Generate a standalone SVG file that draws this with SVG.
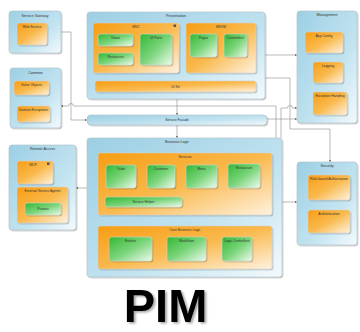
<svg xmlns="http://www.w3.org/2000/svg" width="360" height="332" viewBox="0 0 360 332">
  <defs>
    <linearGradient id="gBlue" x1="0" y1="0" x2="1" y2="1">
      <stop offset="0" stop-color="#9ccfe4"/>
      <stop offset="0.6" stop-color="#c2e3f0"/>
      <stop offset="1" stop-color="#f3fafd"/>
    </linearGradient>
    <linearGradient id="gOrange" x1="0" y1="0" x2="1" y2="1">
      <stop offset="0" stop-color="#f79d14"/>
      <stop offset="0.5" stop-color="#f9b94c"/>
      <stop offset="1" stop-color="#fff2e0"/>
    </linearGradient>
    <linearGradient id="gGreen" x1="0" y1="0" x2="1" y2="1">
      <stop offset="0" stop-color="#35b835"/>
      <stop offset="0.5" stop-color="#79d479"/>
      <stop offset="1" stop-color="#eefaee"/>
    </linearGradient>
    <filter id="shadow" x="-10%" y="-10%" width="125%" height="125%">
      <feDropShadow dx="1" dy="1" stdDeviation="0.6" flood-color="#000" flood-opacity="0.25"/>
    </filter>
    <filter id="titleShadow" x="-10%" y="-10%" width="130%" height="130%">
      <feDropShadow dx="2" dy="1.5" stdDeviation="0.8" flood-color="#000" flood-opacity="0.35"/>
    </filter>
    <marker id="arrow" viewBox="0 0 6 6" refX="6" refY="3" markerWidth="3.2" markerHeight="3.2" orient="auto">
      <path d="M0,0 L6,3 L0,6 Z" fill="#555"/>
    </marker>
    <style>
      .grp { fill: url(#gBlue); stroke: #b4c4cc; stroke-width: 0.7; filter: url(#shadow); }
      .org { fill: url(#gOrange); stroke: #d6d0c6; stroke-width: 0.6; filter: url(#shadow); }
      .grn { fill: url(#gGreen); stroke: #cfd8cf; stroke-width: 0.6; filter: url(#shadow); }
      .ttl { font-family: "Liberation Sans", Arial, sans-serif; font-size: 3.6px; fill: #333; text-anchor: middle; }
      .lbl { font-family: "Liberation Sans", Arial, sans-serif; font-size: 3.4px; fill: #333; text-anchor: middle; }
      .icon { fill: #555; }
      .conn { fill: none; stroke: #8a8a8a; stroke-width: 0.6; marker-end: url(#arrow); }
      .pim { font-family: "Liberation Sans", Arial, sans-serif; font-weight: bold; font-size: 47px; fill: #000; text-anchor: middle; filter: url(#titleShadow); }
    </style>
  </defs>

  <rect width="360" height="332" fill="#fff"/>

  <!-- Connectors -->
  <g id="connectors">
    <path class="conn" d="M61,32 H71 V120 H87"/>
    <path class="conn" d="M276,138 V106 H73.5 A2.5,2.5 0 0 0 68.5,106 H61"/>
    <path class="conn" d="M265,55 H297"/>
    <path class="conn" d="M265,78 H290 V129 H330 V162"/>
    <path class="conn" d="M281,138 V108 H287.5 A2.5,2.5 0 0 1 292.5,108 H297"/>
    <path class="conn" d="M267,119 H297"/>
    <path class="conn" d="M177,99 V115"/>
    <path class="conn" d="M177,125 V138"/>
    <path class="conn" d="M87,188 H76"/>
    <path class="conn" d="M282,202 H297"/>
    <path class="conn" d="M136,73 V81"/>
    <path class="conn" d="M221,73 V81"/>
    <path class="conn" d="M120,197 V188"/>
    <path class="conn" d="M160,197 V188"/>
    <path class="conn" d="M182,200 H183 V177 H186"/>
    <path class="conn" d="M182,202 H244 V188"/>
    <path class="conn" d="M185,215 V226"/>
  </g>

  <!-- Service Gateway -->
  <g id="service-gateway">
    <rect class="grp" x="9" y="11" width="52" height="42" rx="3"/>
    <text class="ttl" x="35" y="16.5">Service Gateway</text>
    <rect class="org" x="17" y="23" width="30" height="22" rx="2.5"/>
    <text class="lbl" x="32" y="28">Web Service</text>
  </g>

  <!-- Common -->
  <g id="common">
    <rect class="grp" x="10" y="68" width="51" height="60" rx="3"/>
    <text class="ttl" x="35.5" y="73.5">Common</text>
    <rect class="org" x="14" y="81" width="35" height="14" rx="2.5"/>
    <text class="lbl" x="31.5" y="86">Value Objects</text>
    <rect class="org" x="17" y="106" width="33" height="16" rx="2.5"/>
    <text class="lbl" x="33.5" y="111">Domain Exceptions</text>
  </g>

  <!-- Presentation -->
  <g id="presentation">
    <rect class="grp" x="87" y="12" width="178" height="87" rx="3"/>
    <text class="ttl" x="176" y="17">Presentation</text>
    <g id="mvc">
      <rect class="org" x="93" y="23" width="86" height="50" rx="2.5"/>
      <text class="lbl" x="136" y="27.5">MVC</text>
      <rect class="icon" x="173.5" y="24.5" width="2.5" height="2.5"/>
    </g>
    <g id="views">
      <rect class="grn" x="98" y="34" width="35" height="12" rx="2.5"/>
      <text class="lbl" x="115.5" y="38.5">Views</text>
    </g>
    <g id="resources">
      <rect class="grn" x="98" y="53" width="35" height="12" rx="2.5"/>
      <text class="lbl" x="115.5" y="57.5">Resources</text>
    </g>
    <g id="ui-parts">
      <rect class="grn" x="140" y="34" width="32" height="31" rx="2.5"/>
      <text class="lbl" x="156" y="38.5">UI Parts</text>
    </g>
    <g id="mvvm">
      <rect class="org" x="186" y="23" width="70" height="50" rx="2.5"/>
      <text class="lbl" x="221" y="27.5">MVVM</text>
    </g>
    <g id="pages">
      <rect class="grn" x="190" y="34" width="27" height="23" rx="2.5"/>
      <text class="lbl" x="203.5" y="38.5">Pages</text>
    </g>
    <g id="controllers">
      <rect class="grn" x="224" y="34" width="23" height="23" rx="2.5"/>
      <text class="lbl" x="235.5" y="38.5">Controllers</text>
    </g>
    <g id="ui-kit">
      <rect class="org" x="95" y="81" width="161" height="11" rx="2.5"/>
      <text class="lbl" x="175.5" y="87.5">UI Kit</text>
    </g>
  </g>

  <!-- Management -->
  <g id="management">
    <rect class="grp" x="297" y="11" width="60" height="112" rx="3"/>
    <text class="ttl" x="327" y="16">Management</text>
    <rect class="org" x="305" y="32" width="38" height="21" rx="2.5"/>
    <text class="lbl" x="324" y="36.5">App Config</text>
    <rect class="org" x="313" y="62" width="30" height="21" rx="2.5"/>
    <text class="lbl" x="328" y="66.5">Logging</text>
    <rect class="org" x="313" y="92" width="34" height="23" rx="2.5"/>
    <text class="lbl" x="330" y="96.5">Exception Handling</text>
  </g>

  <!-- Service Facade -->
  <g id="service-facade">
    <rect class="grp" x="87" y="115" width="180" height="10" rx="4"/>
    <text class="lbl" x="177" y="121.2">Service Facade</text>
  </g>

  <!-- Business Logic -->
  <g id="business-logic">
    <rect class="grp" x="87" y="138" width="195" height="139" rx="3"/>
    <text class="ttl" x="177" y="143">Business Logic</text>
    <g id="services">
      <rect class="org" x="98" y="153" width="174" height="62" rx="2.5"/>
      <text class="lbl" x="185" y="157.5">Services</text>
    </g>
    <g id="order">
      <rect class="grn" x="106" y="165" width="30" height="23" rx="2.5"/>
      <text class="lbl" x="121" y="169.5">Order</text>
    </g>
    <g id="customer">
      <rect class="grn" x="147" y="165" width="28" height="23" rx="2.5"/>
      <text class="lbl" x="161" y="169.5">Customer</text>
    </g>
    <g id="menu">
      <rect class="grn" x="186" y="165" width="31" height="23" rx="2.5"/>
      <text class="lbl" x="201.5" y="169.5">Menu</text>
    </g>
    <g id="restaurant">
      <rect class="grn" x="228" y="164" width="32" height="24" rx="2.5"/>
      <text class="lbl" x="244" y="168.5">Restaurant</text>
    </g>
    <g id="service-helper">
      <rect class="grn" x="105" y="197" width="77" height="10" rx="2.5"/>
      <text class="lbl" x="143.5" y="203">Service Helper</text>
    </g>
    <g id="core-business-logic">
      <rect class="org" x="98" y="226" width="174" height="43" rx="2.5"/>
      <text class="lbl" x="185" y="230.5">Core Business Logic</text>
    </g>
    <g id="entities">
      <rect class="grn" x="109" y="237" width="43" height="24" rx="2.5"/>
      <text class="lbl" x="130.5" y="241.5">Entities</text>
    </g>
    <g id="workflows">
      <rect class="grn" x="167" y="237" width="39" height="24" rx="2.5"/>
      <text class="lbl" x="186.5" y="241.5">Workflows</text>
    </g>
    <g id="logic-controllers">
      <rect class="grn" x="222" y="237" width="30" height="24" rx="2.5"/>
      <text class="lbl" x="237" y="241.5">Logic Controllers</text>
    </g>
  </g>

  <!-- Security -->
  <g id="security">
    <rect class="grp" x="297" y="162" width="60" height="83" rx="3"/>
    <text class="ttl" x="327" y="167">Security</text>
    <rect class="org" x="308" y="175" width="42" height="25" rx="2.5"/>
    <text class="lbl" x="329" y="180">Role-based Authorization</text>
    <rect class="org" x="308" y="210" width="42" height="23" rx="2.5"/>
    <text class="lbl" x="329" y="215">Authentication</text>
  </g>

  <!-- Remote Access -->
  <g id="remote-access">
    <rect class="grp" x="9" y="145" width="67" height="85" rx="3"/>
    <text class="ttl" x="42.5" y="150">Remote Access</text>
    <rect class="org" x="17" y="161" width="36" height="23" rx="2.5"/>
    <text class="lbl" x="33" y="165.5">WCF</text>
    <rect class="icon" x="47" y="162.5" width="2.5" height="2.5"/>
    <rect class="org" x="17" y="187" width="51" height="36" rx="2.5"/>
    <text class="lbl" x="42.5" y="191.5">External Service Agents</text>
    <rect class="grn" x="25" y="203" width="36" height="12" rx="2.5"/>
    <text class="lbl" x="43" y="210">Proxies</text>
  </g>

  <!-- Title -->
  <text class="pim" x="165.5" y="321.5">PIM</text>
</svg>
